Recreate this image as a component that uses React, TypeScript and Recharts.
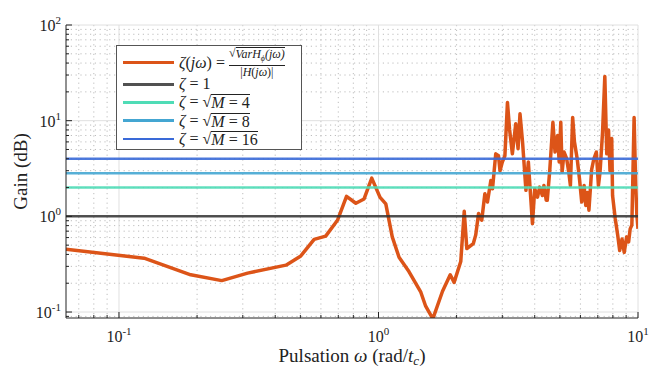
import React from "react";
import { LineChart, Line, XAxis, YAxis, CartesianGrid } from "recharts";

const omega = [
  0.0625, 0.125, 0.189, 0.249, 0.313, 0.44, 0.502, 0.565, 0.626, 0.695, 0.753, 0.818, 0.88, 0.942,
  1.014, 1.067, 1.13, 1.2, 1.31, 1.456, 1.52, 1.62, 1.765, 1.89, 1.956, 2.075, 2.14, 2.19, 2.32,
  2.37, 2.43, 2.5, 2.57, 2.63, 2.71, 2.75, 2.83, 2.9, 2.94, 3.0, 3.07, 3.14, 3.2, 3.28, 3.38, 3.45,
  3.51, 3.59, 3.7, 3.78, 3.84, 3.92, 4.0, 4.1, 4.18, 4.28, 4.34, 4.43, 4.47, 4.57, 4.7, 4.79, 4.9,
  4.97, 5.04, 5.1, 5.19, 5.31, 5.41, 5.49, 5.6, 5.69, 5.83, 5.95, 6.07, 6.2, 6.29, 6.38, 6.47, 6.63,
  6.76, 6.91, 7.04, 7.14, 7.3, 7.45, 7.58, 7.7, 7.8, 7.92, 7.98, 8.17, 8.35, 8.5, 8.68, 8.85, 9.04,
  9.2, 9.33, 9.47, 9.66, 9.8, 9.9, 10,
];
const zeta = [
  0.453, 0.365, 0.245, 0.213, 0.255, 0.309, 0.386, 0.574, 0.621, 0.91, 1.62, 1.37, 1.52, 2.51,
  1.58, 1.35, 0.61, 0.374, 0.265, 0.161, 0.115, 0.085, 0.165, 0.245, 0.204, 0.337, 1.13, 0.46, 0.52,
  0.64, 1.07, 0.91, 1.72, 1.41, 2.37, 1.94, 4.5, 4.3, 3.0, 3.7, 4.3, 15.5, 8.1, 4.5, 9.3, 5.1,
  11.8, 6.0, 1.87, 3.7, 1.94, 0.84, 1.94, 1.59, 2.02, 1.65, 2.1, 1.47, 1.47, 3.0, 9.6, 4.7, 7.0,
  3.7, 9.6, 2.9, 4.7, 4.0, 2.9, 2.1, 10.8, 6.0, 4.0, 2.47, 1.41, 2.1, 1.3, 1.78, 1.16, 3.1,
  4.0, 4.7, 2.1, 2.9, 7.5, 29, 4.5, 8.0, 3.0, 6.5, 1.65, 0.95, 0.64, 0.44, 0.58, 0.42, 0.61,
  0.54, 0.74, 0.81, 10.8, 2.1, 1.03, 0.74,
];

const thresholdNames = ["ζ = 1", "ζ = √M = 4", "ζ = √M = 8", "ζ = √M = 16"];
const thresholdValues = [1, 2, 2.828, 4];
const thresholdColors = ["#333333", "#4fdcb6", "#44a6d2", "#3a6ad8"];
const zetaColor = "#dc5418";

const xMajorTicks = [0.1, 1, 10];
const xMinorTicks = [0.07, 0.08, 0.09, 0.2, 0.3, 0.4, 0.5, 0.6, 0.7, 0.8, 0.9, 2, 3, 4, 5, 6, 7, 8, 9];
const yMajorTicks = [0.1, 1, 10, 100];
const yMinorTicks = [0.09, 0.2, 0.3, 0.4, 0.5, 0.6, 0.7, 0.8, 0.9, 2, 3, 4, 5, 6, 7, 8, 9, 20, 30, 40, 50, 60, 70, 80, 90];

const X_DOMAIN: [number, number] = [0.0625, 10];
const Y_DOMAIN: [number, number] = [0.0866, 100];

const zetaData = omega.map((w, i) => ({ w, v: zeta[i] }));
const thresholdData = thresholdValues.map((v) => [
  { w: X_DOMAIN[0], v },
  { w: X_DOMAIN[1], v },
]);

const W = 664;
const H = 372;
const LEFT = 66;
const TOP = 25;
const RIGHT = 638;
const BOTTOM = 318;
const FONT = "Liberation Serif, Times New Roman, serif";

const isMajor = (v: number) => Math.abs(Math.log10(v) - Math.round(Math.log10(v))) < 1e-6;

const XTick = (props: any) => {
  const { x, payload } = props;
  const v = payload.value;
  const major = isMajor(v);
  const e = Math.round(Math.log10(v));
  return (
    <g>
      <line x1={x} x2={x} y1={BOTTOM} y2={BOTTOM - (major ? 6 : 3)} stroke="#222" strokeWidth={1} />
      {major && (
        <text x={x} y={342} textAnchor="middle" fontFamily={FONT} fontSize={16} fill="#222">
          10<tspan dy={-7} fontSize={11}>{String(e)}</tspan>
        </text>
      )}
    </g>
  );
};

const YTick = (props: any) => {
  const { y, payload } = props;
  const v = payload.value;
  const major = isMajor(v);
  const e = Math.round(Math.log10(v));
  return (
    <g>
      <line x1={LEFT} x2={LEFT + (major ? 6 : 3)} y1={y} y2={y} stroke="#222" strokeWidth={1} />
      {major && (
        <text x={61} y={y + 6} textAnchor="end" fontFamily={FONT} fontSize={16} fill="#222">
          10<tspan dy={-7} fontSize={11}>{String(e)}</tspan>
        </text>
      )}
    </g>
  );
};

const Rad = ({ children }: { children: React.ReactNode }) => (
  <span style={{ display: "inline-flex", alignItems: "flex-start" }}>
    <span style={{ fontStyle: "normal" }}>√</span>
    <span style={{ borderTop: "1px solid #222", marginTop: 1, lineHeight: "16px" }}>{children}</span>
  </span>
);

const LegendBox = () => {
  const rowCenters = [38.3, 56.3, 74.7, 93];
  const rowStyle = (c: number): React.CSSProperties => ({
    position: "absolute",
    left: 0,
    top: c - 10,
    height: 20,
    display: "flex",
    alignItems: "center",
    whiteSpace: "nowrap",
  });
  const sample = (color: string, w: number): React.CSSProperties => ({
    position: "absolute",
    left: 6,
    width: 51,
    height: w,
    background: color,
  });
  return (
    <div
      style={{
        position: "absolute",
        left: 116,
        top: 45,
        width: 186,
        height: 105,
        boxSizing: "border-box",
        border: "1px solid #555",
        background: "#fff",
        fontFamily: FONT,
        fontSize: 16,
        color: "#222",
      }}
    >
      <div style={{ ...rowStyle(16.7), height: 28, top: 16.7 - 14 }}>
        <div style={{ ...sample(zetaColor, 3.5), top: 12.2 }} />
        <div style={{ position: "absolute", left: 62, display: "flex", alignItems: "center", top: 0, height: 28 }}>
          <span><i>ζ</i>(<i>jω</i>) =&nbsp;</span>
          <span style={{ display: "inline-flex", flexDirection: "column", alignItems: "center", fontSize: 12, lineHeight: "13px" }}>
            <span style={{ display: "inline-flex" }}>
              <span>√</span>
              <span style={{ borderTop: "1px solid #222", fontStyle: "italic" }}>
                VarH<sub style={{ fontSize: 8 }}>ϕ</sub>(jω)
              </span>
            </span>
            <span style={{ borderTop: "1px solid #222", alignSelf: "stretch", textAlign: "center" }}>
              |<i>H</i>(<i>jω</i>)|
            </span>
          </span>
        </div>
      </div>
      {thresholdNames.map((name, i) => (
        <div key={name} style={rowStyle(rowCenters[i])}>
          <div style={{ ...sample(thresholdColors[i], 2.5), top: 8.75, opacity: i === 0 ? 0.85 : 1 }} />
          <div style={{ position: "absolute", left: 62, display: "flex", alignItems: "center" }}>
            {i === 0 ? (
              <span><i>ζ</i> = 1</span>
            ) : (
              <span style={{ display: "inline-flex", alignItems: "center" }}>
                <i>ζ</i>&nbsp;=&nbsp;
                <Rad>
                  <i>M</i> = {name.split("= ")[2]}
                </Rad>
              </span>
            )}
          </div>
        </div>
      ))}
    </div>
  );
};

export default function App() {
  return (
    <div style={{ position: "absolute", left: 0, top: 0, width: W, height: H, background: "#fff" }}>
      <LineChart
        width={W}
        height={H}
        margin={{ top: TOP, right: W - RIGHT, bottom: 0, left: 0 }}
      >
        <CartesianGrid
          stroke="#bdbdbd"
          strokeDasharray="1.2 3.6"
          verticalValues={xMinorTicks}
          horizontalValues={yMinorTicks}
        />
        <CartesianGrid
          stroke="#e0e0e0"
          strokeWidth={1}
          verticalValues={xMajorTicks}
          horizontalValues={yMajorTicks}
        />
        <XAxis
          dataKey="w"
          type="number"
          scale="log"
          domain={X_DOMAIN}
          allowDataOverflow
          ticks={[...xMinorTicks, ...xMajorTicks].sort((a, b) => a - b)}
          interval={0}
          tick={<XTick />}
          tickLine={false}
          axisLine={{ stroke: "#222", strokeWidth: 1 }}
          height={H - BOTTOM}
        />
        <YAxis
          dataKey="v"
          type="number"
          scale="log"
          domain={Y_DOMAIN}
          allowDataOverflow
          ticks={[...yMinorTicks, ...yMajorTicks].sort((a, b) => a - b)}
          interval={0}
          tick={<YTick />}
          tickLine={false}
          axisLine={{ stroke: "#222", strokeWidth: 1 }}
          width={LEFT}
        />
        <Line
          data={zetaData}
          dataKey="v"
          stroke={zetaColor}
          strokeWidth={3.5}
          dot={false}
          isAnimationActive={false}
          strokeLinejoin="round"
        />
        {thresholdData.map((d, i) => (
          <Line
            key={i}
            data={d}
            dataKey="v"
            stroke={thresholdColors[i]}
            strokeOpacity={i === 0 ? 0.85 : 0.9}
            strokeWidth={2.5}
            dot={false}
            isAnimationActive={false}
          />
        ))}
      </LineChart>
      <svg width={W} height={H} style={{ position: "absolute", left: 0, top: 0, pointerEvents: "none" }}>
        <text
          transform={`translate(27, ${(TOP + BOTTOM) / 2}) rotate(-90)`}
          textAnchor="middle"
          fontFamily={FONT}
          fontSize={19}
          fill="#222"
        >
          Gain (dB)
        </text>
        <text x={(LEFT + RIGHT) / 2} y={362} textAnchor="middle" fontFamily={FONT} fontSize={19} fill="#222">
          Pulsation <tspan fontStyle="italic">ω</tspan> (rad/<tspan fontStyle="italic">t</tspan>
          <tspan fontSize={13} fontStyle="italic" dy={3}>c</tspan>
          <tspan dy={-3}>)</tspan>
        </text>
      </svg>
      <LegendBox />
    </div>
  );
}
